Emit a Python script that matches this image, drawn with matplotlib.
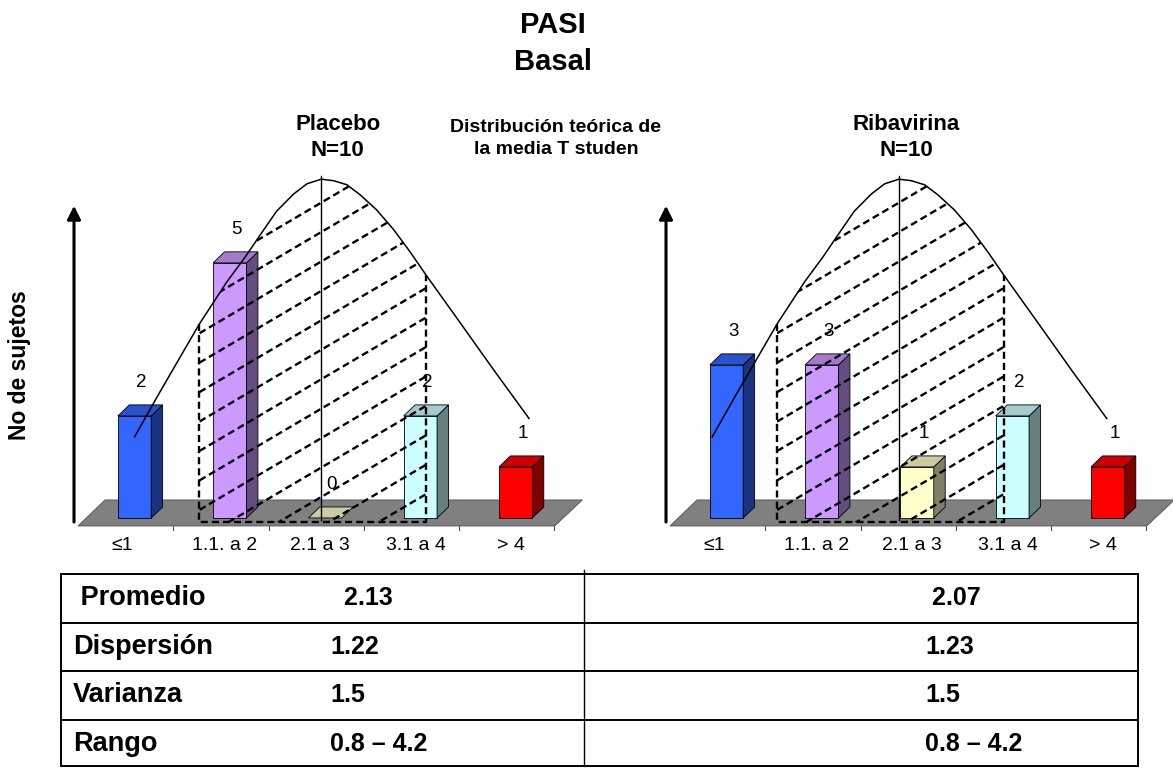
import matplotlib.pyplot as plt
import numpy as np
from matplotlib.colors import to_rgb
from matplotlib.patches import Polygon

plt.rcParams['font.family'] = ['Liberation Sans', 'DejaVu Sans']

categories = ['≤1', '1.1. a 2', '2.1 a 3', '3.1 a 4', '> 4']
placebo = [2, 5, 0, 2, 1]
ribavirina = [3, 3, 1, 2, 1]
bar_colors = ['#3366FF', '#CC99FF', '#FFFFCC', '#CCFFFF', '#FF0000']

# bell curve sketched over the bars (x in category units, y in subject counts)
curve_x = [0.00, 0.27, 0.68, 0.97, 1.16, 1.32, 1.49, 1.67, 1.81, 1.96,
           2.09, 2.23, 2.37, 2.54, 2.72, 2.89, 3.06, 3.42, 3.77, 4.14]
curve_y = [1.59, 2.48, 3.80, 4.63, 5.11, 5.55, 6.01, 6.35, 6.55, 6.64,
           6.61, 6.53, 6.33, 6.04, 5.65, 5.22, 4.76, 3.82, 2.90, 1.95]

stat_names = [' Promedio', 'Dispersión', 'Varianza', 'Rango']
placebo_stats = ['  2.13', '1.22', '1.5', '0.8 – 4.2']
ribavirina_stats = [' 2.07', '1.23', '1.5', '0.8 – 4.2']

W, H = 1173, 768
fig = plt.figure(figsize=(W / 100, H / 100), dpi=100)


def fx(x):
    return x / W


def fy(y):
    return 1 - y / H


def draw_panel(ax, counts, shift):
    ax.set_xlim(-0.782, 4.78)
    ax.set_ylim(-0.824, 6.82)
    ax.axis('off')

    # grey floor of the 3D chart
    ax.add_patch(Polygon([(-0.593, -0.157), (4.41, -0.157), (4.70, 0.353), (-0.31, 0.353)],
                         closed=True, fc='#808080', ec='#505050', lw=0.6, zorder=1))
    for k in range(1, 6):
        xb = -0.593 + k
        ax.plot([xb, xb], [-0.157, -0.24], color='#505050', lw=0.8, zorder=1)

    # vertical axis arrow
    ax.annotate('', xy=(-0.635, 6.12), xytext=(-0.635, -0.08),
                arrowprops=dict(arrowstyle='-|>', color='black', lw=2.2,
                                mutation_scale=20, shrinkA=0, shrinkB=0))

    # 3D looking bars: front, top and side faces
    w, dx, dy = 0.35, 0.12, 0.216
    for i, (v, c) in enumerate(zip(counts, bar_colors)):
        rgb = np.array(to_rgb(c))
        x0, x1 = i - w / 2, i + w / 2
        top = [(x0, v), (x1, v), (x1 + dx, v + dy), (x0 + dx, v + dy)]
        if v > 0:
            ax.add_patch(Polygon([(x0, 0), (x1, 0), (x1, v), (x0, v)], closed=True,
                                 fc=rgb, ec='black', lw=0.6, zorder=2))
            ax.add_patch(Polygon([(x1, 0), (x1 + dx, dy), (x1 + dx, v + dy), (x1, v)],
                                 closed=True, fc=rgb * 0.5, ec='black', lw=0.6, zorder=2))
        ax.add_patch(Polygon(top, closed=True, fc=rgb * 0.8, ec='black', lw=0.6, zorder=2))
        ax.text(i + 0.07, v + 0.65, str(v), ha='center', va='center', fontsize=13.5, zorder=6)

    for k, lab in enumerate(categories):
        xk = k - 0.05 if k else -0.13
        ax.text(xk, -0.53, lab, ha='center', va='center', fontsize=14)

    # theoretical curve with the dashed, hatched central area
    cx = np.array(curve_x) + shift
    cy = np.array(curve_y)
    ax.plot(cx, cy, color='black', lw=1.1, zorder=5)

    xl, xr, yb = 0.68 + shift, 3.06 + shift, -0.08
    yl, yr = np.interp(xl, cx, cy), np.interp(xr, cx, cy)
    dash = dict(color='black', lw=1.7, dashes=(3.0, 1.7), zorder=4)
    ax.plot([xl, xl, xr, xr], [yl, yb, yb, yr], **dash)

    inside = (cx > xl) & (cx < xr)
    region = [(xl, yb), (xl, yl)] + list(zip(cx[inside], cy[inside])) + [(xr, yr), (xr, yb)]
    clip = Polygon(region, closed=True, fc='none', ec='none')
    ax.add_patch(clip)
    hx = np.array([xl - 0.3, xr + 0.3])
    for k in range(-12, 14):
        ln, = ax.plot(hx, 0.157 + 0.577 * k + 1.1 * (hx - xl), **dash)
        ln.set_clip_path(clip)

    ax.plot([1.96 + shift] * 2, [-0.04, 6.7], color='black', lw=1.0, zorder=5)


ax_l = fig.add_axes([fx(60), fy(560), fx(530), 390 / H])
draw_panel(ax_l, placebo, 0.0)
ax_r = fig.add_axes([fx(652), fy(560), fx(530), 390 / H])
draw_panel(ax_r, ribavirina, -0.15)

# titles
fig.text(fx(553), fy(25), 'PASI', ha='center', va='center', fontsize=21, fontweight='bold')
fig.text(fx(553), fy(62), 'Basal', ha='center', va='center', fontsize=21, fontweight='bold')
fig.text(fx(338), fy(125), 'Placebo', ha='center', va='center', fontsize=16, fontweight='bold')
fig.text(fx(337), fy(150), 'N=10', ha='center', va='center', fontsize=16, fontweight='bold')
fig.text(fx(906), fy(125), 'Ribavirina', ha='center', va='center', fontsize=16, fontweight='bold')
fig.text(fx(906), fy(150), 'N=10', ha='center', va='center', fontsize=16, fontweight='bold')
fig.text(fx(556), fy(128), 'Distribución teórica de', ha='center', va='center',
         fontsize=14, fontweight='bold')
fig.text(fx(556), fy(150), 'la media T studen', ha='center', va='center',
         fontsize=14, fontweight='bold')
fig.text(fx(20), fy(365), 'No de sujetos', ha='center', va='center', rotation=90,
         fontsize=16.5, fontweight='bold')

# summary table
tab = fig.add_axes([0, 0, 1, 1], zorder=-1)
tab.set_xlim(0, W)
tab.set_ylim(H, 0)
tab.axis('off')
top, row_h = 574, 48.5
left, mid, right = 61, 584, 1138
n = len(stat_names)
bottom = top + row_h * n - 2
for r in range(n + 1):
    yy = min(top + row_h * r, bottom)
    tab.plot([left, right], [yy, yy], color='black', lw=1.4)
tab.plot([left, left], [top, bottom], color='black', lw=1.4)
tab.plot([right, right], [top, bottom], color='black', lw=1.4)
tab.plot([mid, mid], [top - 4, bottom], color='black', lw=1.0)
for r, (name, a, b) in enumerate(zip(stat_names, placebo_stats, ribavirina_stats)):
    yc = top + row_h * (r + 0.5)
    tab.text(73, yc, name, ha='left', va='center', fontsize=19.5, fontweight='bold')
    tab.text(330, yc, a, ha='left', va='center', fontsize=18, fontweight='bold')
    tab.text(925, yc, b, ha='left', va='center', fontsize=18, fontweight='bold')

fig.savefig('out.png', dpi=100)
